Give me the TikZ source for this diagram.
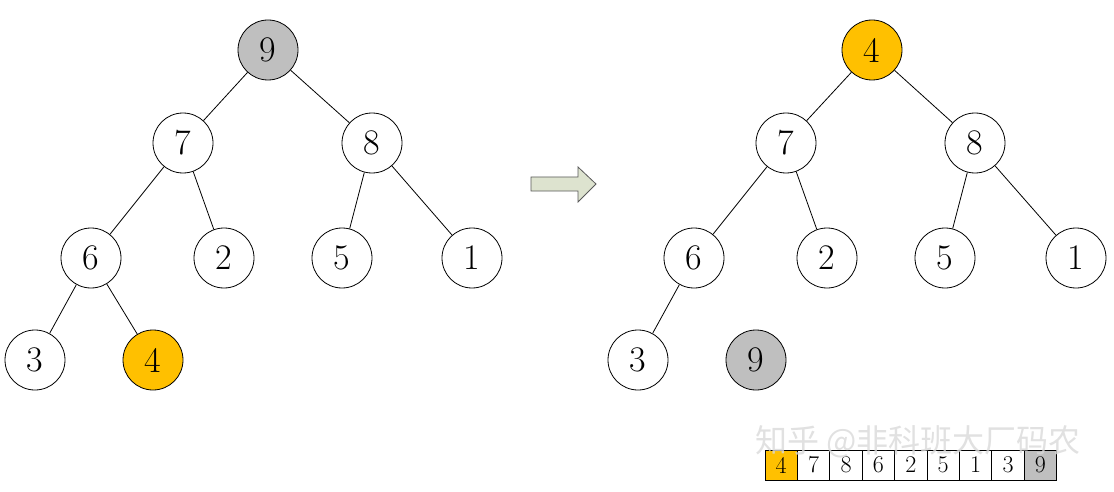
\documentclass[tikz,border=0pt]{standalone}
\usepackage{xcolor}
\usepackage{fontspec}
\newfontfamily\cjkfont{Noto Sans CJK SC}
\usetikzlibrary{arrows.meta, positioning}

\definecolor{heapgold}{HTML}{FFC000}
\definecolor{heapgray}{HTML}{BFBFBF}
\definecolor{arrowfill}{HTML}{DDE3CF}

\tikzset{
  heapnode/.style={circle, draw=black, line width=0.8pt, fill=white, minimum size=60pt, inner sep=0pt,
    font=\fontsize{36}{38}\selectfont},
  cellbox/.style={draw=black, line width=0.8pt, fill=white, minimum width=32.4pt, minimum height=30pt,
    inner sep=0pt, outer sep=0pt, font=\fontsize{24}{26}\selectfont},
  edge/.style={draw=black, line width=0.8pt}
}

\begin{document}
\begin{tikzpicture}[x=1pt, y=-1pt]
\useasboundingbox (0,0) rectangle (1114,492);

% left tree
\node[heapnode, fill=heapgray] (l9) at (268,50) {9};
\node[heapnode] (l7) at (183,143) {7};
\node[heapnode] (l8) at (372,143) {8};
\node[heapnode] (l6) at (91,258) {6};
\node[heapnode] (l2) at (224,258) {2};
\node[heapnode] (l5) at (342,258) {5};
\node[heapnode] (l1) at (472,258) {1};
\node[heapnode] (l3) at (35,360) {3};
\node[heapnode, fill=heapgold] (l4) at (153,360) {4};
\draw[edge] (l9) -- (l7);
\draw[edge] (l9) -- (l8);
\draw[edge] (l7) -- (l6);
\draw[edge] (l7) -- (l2);
\draw[edge] (l8) -- (l5);
\draw[edge] (l8) -- (l1);
\draw[edge] (l6) -- (l3);
\draw[edge] (l6) -- (l4);

% arrow
\draw[draw=black!65, fill=arrowfill, line width=0.8pt, line join=miter]
  (531,177) -- (578,177) -- (578,167) -- (596,184) -- (578,202) -- (578,191) -- (531,191) -- cycle;

% right tree
\node[heapnode, fill=heapgold] (r4) at (872,50) {4};
\node[heapnode] (r7) at (786,143) {7};
\node[heapnode] (r8) at (975,143) {8};
\node[heapnode] (r6) at (694,258) {6};
\node[heapnode] (r2) at (827,258) {2};
\node[heapnode] (r5) at (945,258) {5};
\node[heapnode] (r1) at (1076,258) {1};
\node[heapnode] (r3) at (638,360) {3};
\node[heapnode, fill=heapgray] (r9) at (756,360) {9};
\draw[edge] (r4) -- (r7);
\draw[edge] (r4) -- (r8);
\draw[edge] (r7) -- (r6);
\draw[edge] (r7) -- (r2);
\draw[edge] (r8) -- (r5);
\draw[edge] (r8) -- (r1);
\draw[edge] (r6) -- (r3);

% array
\node[cellbox, fill=heapgold] (a1) at (781.2,465) {4};
\node[cellbox, right=0pt of a1] (a2) {7};
\node[cellbox, right=0pt of a2] (a3) {8};
\node[cellbox, right=0pt of a3] (a4) {6};
\node[cellbox, right=0pt of a4] (a5) {2};
\node[cellbox, right=0pt of a5] (a6) {5};
\node[cellbox, right=0pt of a6] (a7) {1};
\node[cellbox, right=0pt of a7] (a8) {3};
\node[cellbox, fill=heapgray, right=0pt of a8] (a9) {9};

% watermark
\node[text=black!15, opacity=0.8, font=\cjkfont\fontsize{32}{34}\selectfont, anchor=west] (mark)
  at (752,442) {知乎 @非科班大厂码农};
\end{tikzpicture}
\end{document}
